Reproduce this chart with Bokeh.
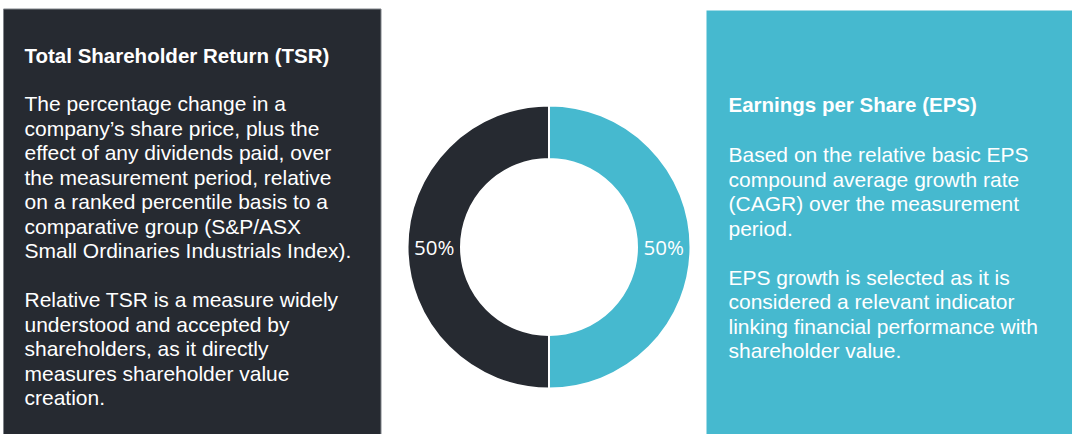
import numpy as np
from bokeh.plotting import figure
from bokeh.models import Range1d, ColumnDataSource
from bokeh.core.properties import value
from bokeh.embed import file_html
from bokeh.resources import INLINE

# ---- data ----
segments = ["EPS", "TSR"]
weights = [50, 50]
seg_colors = ["#46b9cf", "#262a31"]

tsr_title = "Total Shareholder Return (TSR)"
tsr_lines = [
    "The percentage change in a",
    "company\u2019s share price, plus the",
    "effect of any dividends paid, over",
    "the measurement period, relative",
    "on a ranked percentile basis to a",
    "comparative group (S&P/ASX",
    "Small Ordinaries Industrials Index).",
    "",
    "Relative TSR is a measure widely",
    "understood and accepted by",
    "shareholders, as it directly",
    "measures shareholder value",
    "creation.",
]
eps_title = "Earnings per Share (EPS)"
eps_lines = [
    "Based on the relative basic EPS",
    "compound average growth rate",
    "(CAGR) over the measurement",
    "period.",
    "",
    "EPS growth is selected as it is",
    "considered a relevant indicator",
    "linking financial performance with",
    "shareholder value.",
]

W, H = 1072, 434
DARK = "#262a31"
CYAN = "#46b9cf"

p = figure(width=W, height=H, x_range=Range1d(0, W), y_range=Range1d(0, H),
           output_backend="svg", toolbar_location=None, min_border=0)
p.axis.visible = False
p.grid.visible = False
p.outline_line_color = None
p.background_fill_color = "white"
p.border_fill_color = "white"

def Y(s):  # screen y -> plot y
    return H - s

def X(s):
    return s

# panels
p.quad(left=[X(3)], right=[X(380.5)], top=[Y(8.5)], bottom=[Y(440)],
       fill_color=DARK, line_color="#80848a", line_width=1)
p.quad(left=[X(706)], right=[X(1080)], top=[Y(10)], bottom=[Y(440)],
       fill_color=CYAN, line_color=None)

FONT = value("Liberation Sans")

# left text
p.text(x=[X(24)], y=[Y(55)], text=[tsr_title], text_font=FONT,
       text_font_size="20.5px", text_font_style="bold", text_color="white",
       text_baseline="middle", text_align="left")
ys = [Y(103 + 24.5 * i) for i in range(len(tsr_lines))]
p.text(x=[X(24)] * len(tsr_lines), y=ys, text=tsr_lines, text_font=FONT,
       text_font_size="21px", text_color="white",
       text_baseline="middle", text_align="left")

# right text
p.text(x=[X(728)], y=[Y(104)], text=[eps_title], text_font=FONT,
       text_font_size="20.5px", text_font_style="bold", text_color="white",
       text_baseline="middle", text_align="left")
ys2 = [Y(154 + 24.5 * i) for i in range(len(eps_lines))]
p.text(x=[X(728)] * len(eps_lines), y=ys2, text=eps_lines, text_font=FONT,
       text_font_size="21px", text_color="white",
       text_baseline="middle", text_align="left")

# donut
cx, cy = X(548.5), Y(246.5)
r_out, r_in = 141.5, 88.0
tot = float(sum(weights))
cum = np.cumsum([0] + weights)
ends = [np.pi / 2 - 2 * np.pi * cum[i] / tot for i in range(len(weights))]
starts = [np.pi / 2 - 2 * np.pi * cum[i + 1] / tot for i in range(len(weights))]
mids = [(s + e) / 2 for s, e in zip(starts, ends)]
src = ColumnDataSource(dict(x=[cx] * len(weights), y=[cy] * len(weights),
                            start=starts, end=ends, color=seg_colors))
p.annular_wedge(x="x", y="y", inner_radius=r_in, outer_radius=r_out,
                start_angle="start", end_angle="end", fill_color="color",
                line_color="white", line_width=2, source=src)
r_mid = (r_in + r_out) / 2
lx = [cx + r_mid * np.cos(m) for m in mids]
ly = [cy + r_mid * np.sin(m) for m in mids]
labels = [f"{w / tot * 100:.0f}%" for w in weights]
p.text(x=lx, y=ly, text=labels, text_font=value("Open Sans"),
       text_font_size="20.5px", text_color="white",
       text_baseline="middle", text_align="center")

open("out.html", "w").write(file_html(p, INLINE))
